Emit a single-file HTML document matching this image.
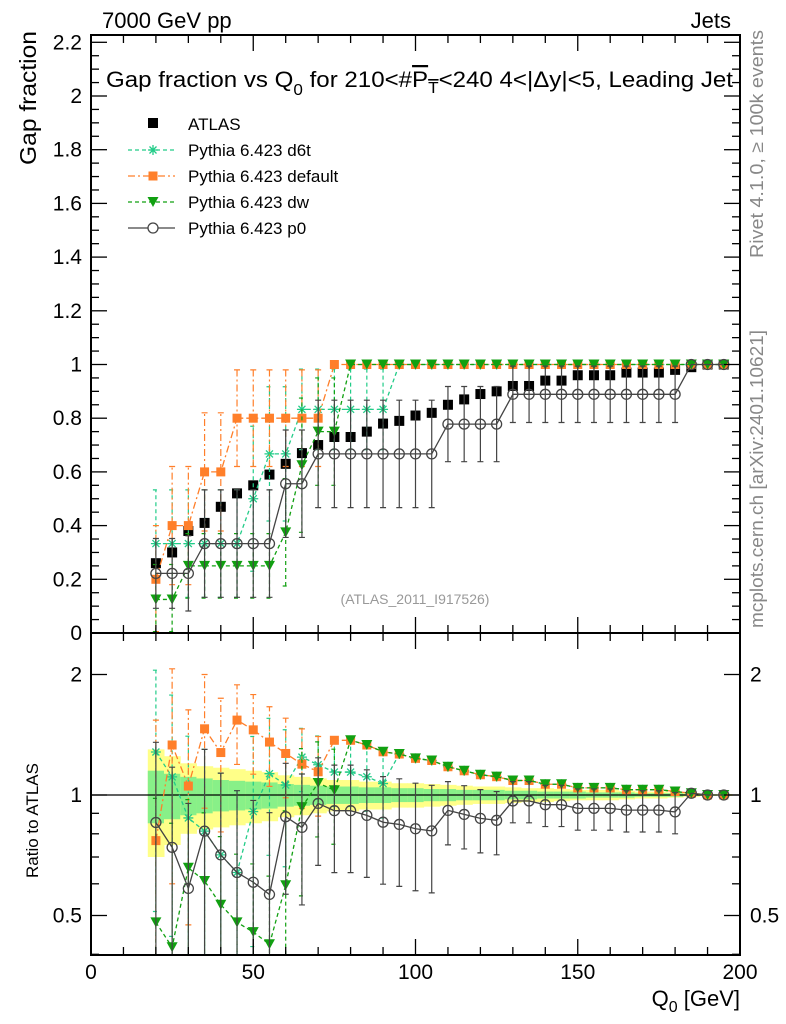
<!DOCTYPE html>
<html><head><meta charset="utf-8"><style>
html,body{margin:0;background:#fff;width:786px;height:1024px;overflow:hidden;position:relative;}
svg{display:block;font-family:"Liberation Sans",sans-serif;}
</style></head><body>
<svg id="c" width="786" height="1024" viewBox="0 0 786 1024" style="position:absolute;left:0;top:0"></svg>
<script>
const xs=[20,25,30,35,40,45,50,55,60,65,70,75,80,85,90,95,100,105,110,115,120,125,130,135,140,145,150,155,160,165,170,175,180,185,190,195];
const atlas=[0.26,0.30,0.38,0.41,0.47,0.52,0.55,0.59,0.63,0.67,0.70,0.73,0.73,0.75,0.78,0.79,0.81,0.82,0.85,0.87,0.89,0.90,0.92,0.92,0.94,0.94,0.96,0.96,0.96,0.97,0.97,0.97,0.98,0.99,1.0,1.0];
const bandOuter=[0.30,0.25,0.2,0.18,0.17,0.16,0.15,0.14,0.12,0.11,0.1,0.09,0.09,0.08,0.08,0.07,0.07,0.065,0.06,0.055,0.05,0.05,0.045,0.04,0.04,0.035,0.03,0.03,0.03,0.025,0.02,0.02,0.015,0.01,0.005,0.005];
const bandInner=[0.15,0.13,0.11,0.1,0.09,0.085,0.08,0.075,0.065,0.06,0.055,0.05,0.05,0.045,0.045,0.04,0.04,0.035,0.035,0.03,0.03,0.03,0.025,0.025,0.02,0.02,0.02,0.015,0.015,0.015,0.01,0.01,0.01,0.005,0.003,0.003];
const d6t=[0.333,0.333,0.333,0.333,0.333,0.333,0.5,0.667,0.667,0.833,0.833,0.833,0.833,0.833,0.833,1,1,1,1,1,1,1,1,1,1,1,1,1,1,1,1,1,1,1,1,1];
const d6tErr=[0.2,0.2,0.2,0.2,0.2,0.2,0.27,0.25,0.25,0.15,0.15,0.15,0.15,0.15,0.15,0,0,0,0,0,0,0,0,0,0,0,0,0,0,0,0,0,0,0,0,0];
const dflt=[0.2,0.4,0.4,0.6,0.6,0.8,0.8,0.8,0.8,0.8,0.8,1,1,1,1,1,1,1,1,1,1,1,1,1,1,1,1,1,1,1,1,1,1,1,1,1];
const dfltErr=[0.2,0.22,0.22,0.22,0.22,0.18,0.18,0.18,0.18,0.18,0.18,0,0,0,0,0,0,0,0,0,0,0,0,0,0,0,0,0,0,0,0,0,0,0,0,0];
const dw=[0.125,0.125,0.25,0.25,0.25,0.25,0.25,0.25,0.375,0.625,0.75,0.75,1,1,1,1,1,1,1,1,1,1,1,1,1,1,1,1,1,1,1,1,1,1,1,1];
const dwErr=[0.13,0.13,0.12,0.12,0.12,0.12,0.12,0.12,0.2,0.25,0.2,0.2,0,0,0,0,0,0,0,0,0,0,0,0,0,0,0,0,0,0,0,0,0,0,0,0];
const p0=[0.222,0.222,0.222,0.333,0.333,0.333,0.333,0.333,0.556,0.556,0.667,0.667,0.667,0.667,0.667,0.667,0.667,0.667,0.778,0.778,0.778,0.778,0.889,0.889,0.889,0.889,0.889,0.889,0.889,0.889,0.889,0.889,0.889,1,1,1];
const p0Err=[0.13,0.13,0.14,0.2,0.2,0.2,0.2,0.2,0.2,0.2,0.2,0.2,0.2,0.2,0.2,0.2,0.2,0.2,0.14,0.14,0.14,0.14,0.105,0.105,0.105,0.105,0.105,0.105,0.105,0.105,0.105,0.105,0.105,0,0,0];
const xTicks=[0,50,100,150,200];
const yTicks=[0.2,0.4,0.6,0.8,1,1.2,1.4,1.6,1.8,2,2.2];
const rTicks=[0.5,1,2];

const NS="http://www.w3.org/2000/svg";
const svg=document.getElementById('c');
const L=91,R=740,T=35,M=633,B=955;
const X=v=>L+(v/200)*(R-L);
const Y=v=>633-v*268.5;
const RY=r=>795-120.5*Math.log2(r);
function el(tag,at,parent){const e=document.createElementNS(NS,tag);for(const k in at)e.setAttribute(k,at[k]);(parent||svg).appendChild(e);return e;}
function txt(s,at,parent){const e=el('text',at,parent);e.textContent=s;return e;}

const defs=el('defs',{});
const c1=el('clipPath',{id:'cm'},defs);el('rect',{x:L,y:T,width:R-L,height:M-T},c1);
const c2=el('clipPath',{id:'cr'},defs);el('rect',{x:L,y:M,width:R-L,height:B-M},c2);
const gMain=el('g',{'clip-path':'url(#cm)'});


const gRat=el('g',{'clip-path':'url(#cr)'});



for(let i=0;i<xs.length;i++){
  const x0=X(xs[i]-2.5),x1=X(xs[i]+2.5);
  const b1=el('rect',{x:x0,y:RY(1+bandOuter[i]),width:x1-x0+0.5,height:RY(1-bandOuter[i])-RY(1+bandOuter[i]),fill:'#ffff88'},gRat);
  
  
  const b2=el('rect',{x:x0,y:RY(1+bandInner[i]),width:x1-x0+0.5,height:RY(1-bandInner[i])-RY(1+bandInner[i]),fill:'#88f088'},gRat);
  
  
}
const l1=el('line',{x1:L,x2:R,y1:RY(1),y2:RY(1),stroke:'#000','stroke-width':1.3},gRat);



function marker(g,kind,x,y,color){
  let m;
  if(kind==='sq'){m=el('rect',{x:x-5,y:y-5,width:10,height:10,fill:color},g);}
  else if(kind==='tri'){m=el('path',{d:`M${x-5.5},${y-5}L${x+5.5},${y-5}L${x},${y+5}Z`,fill:color},g);}
  else if(kind==='circ'){m=el('circle',{cx:x,cy:y,r:5,fill:'none',stroke:color,'stroke-width':1.3},g);}
  else if(kind==='star'){m=el('path',{d:`M${x-5},${y}H${x+5}M${x},${y-5}V${y+5}M${x-3.5},${y-3.5}L${x+3.5},${y+3.5}M${x-3.5},${y+3.5}L${x+3.5},${y-3.5}`,stroke:color,'stroke-width':1.3},g);}
  else if(kind==='osq'){m=el('rect',{x:x-4.5,y:y-4.5,width:9,height:9,fill:color},g);}
  return m;
}
const series=[
 {name:'d6t',vals:d6t,err:d6tErr,color:'#22cc88',dash:'4,3',mk:'star'},
 {name:'default',vals:dflt,err:dfltErr,color:'#ff7f2a',dash:'7,3,2,3',mk:'osq'},
 {name:'dw',vals:dw,err:dwErr,color:'#11a011',dash:'4,3',mk:'tri'},
 {name:'p0',vals:p0,err:p0Err,color:'#444',dash:'none',mk:'circ'}
];
function drawSeries(g,s,ratio){
  const yf=ratio?(v,i)=>RY(Math.max(v/atlas[i],0.01)):(v)=>Y(v);
  let d='';
  s.vals.forEach((v,i)=>{d+=(i?'L':'M')+X(xs[i])+','+yf(v,i);});
  const ln=el('path',{d,fill:'none',stroke:s.color,'stroke-width':1.3,'stroke-dasharray':s.dash},g);
  
  
  s.vals.forEach((v,i)=>{
    if(s.err[i]>0){
      const lo=Math.max(v-s.err[i],0.005),hi=v+s.err[i];
      const x=X(xs[i]),ya=yf(lo,i),yb=yf(hi,i);
      const eb=el('path',{d:`M${x},${ya}V${yb}M${x-3},${ya}H${x+3}M${x-3},${yb}H${x+3}`,stroke:s.color,'stroke-width':1.2,'stroke-dasharray':s.dash},g);
      
      
    }
    const m=marker(g,s.mk,X(xs[i]),yf(v,i),s.color);
    
    
  });
}
series.forEach(s=>drawSeries(gRat,s,true));
atlas.forEach((v,i)=>{
  const m=marker(gMain,'sq',X(xs[i]),Y(v),'#000');
  
  
});
series.forEach(s=>drawSeries(gMain,s,false));

const fr=el('rect',{x:L,y:T,width:R-L,height:B-T,fill:'none',stroke:'#000','stroke-width':2});


const sp=el('line',{x1:L,x2:R,y1:M,y2:M,stroke:'#000','stroke-width':2});



const tk=el('g',{stroke:'#000','stroke-width':1.3});
for(let v=0;v<=200;v+=10){
  const big=v%50===0,len=big?16:8,x=X(v);
  el('line',{x1:x,x2:x,y1:B,y2:B-len},tk);
  el('line',{x1:x,x2:x,y1:M,y2:M-len},tk);
  el('line',{x1:x,x2:x,y1:M,y2:M+len},tk);
  el('line',{x1:x,x2:x,y1:T,y2:T+len},tk);
}
xTicks.forEach(v=>{const t=txt(String(v),{x:X(v),y:979,'font-size':21,'text-anchor':'middle'});
  
  });
for(let v=0;v<=2.2001;v+=0.05){
  const big=Math.abs(v*5-Math.round(v*5))<1e-6,len=big?16:8,y=Y(v);
  el('line',{x1:L,x2:L+len,y1:y,y2:y},tk);
  el('line',{x1:R,x2:R-len,y1:y,y2:y},tk);
}
yTicks.forEach(v=>{const t=txt(String(v),{x:82,y:Y(v)+7,'font-size':21,'text-anchor':'end'});
  
  });
const z=txt('0',{x:82,y:640,'font-size':21,'text-anchor':'end'});

[0.4,0.5,0.6,0.7,0.8,0.9,1,2].forEach(r=>{
  const big=rTicks.includes(r),len=big?16:8,y=RY(r);
  el('line',{x1:L,x2:L+len,y1:y,y2:y},tk);
  el('line',{x1:R,x2:R-len,y1:y,y2:y},tk);
});
rTicks.forEach(r=>{
  const a=txt(String(r),{x:82,y:RY(r)+7,'font-size':21,'text-anchor':'end'});
  
  const b=txt(String(r),{x:750,y:RY(r)+7,'font-size':21,'text-anchor':'start'});
  
});
</script>
<svg width="786" height="1024" style="position:absolute;left:0;top:0">
<text x="102" y="28" font-size="22" font-family="Liberation Sans,sans-serif">7000 GeV pp</text>
<text x="731" y="28" font-size="22" text-anchor="end" font-family="Liberation Sans,sans-serif">Jets</text>
<text x="106" y="87" font-size="22.5" textLength="627" lengthAdjust="spacingAndGlyphs" font-family="Liberation Sans,sans-serif">Gap fraction vs Q<tspan dy="8" font-size="16">0</tspan><tspan dy="-8"> for 210&lt;#</tspan><tspan text-decoration="overline">P<tspan dy="6" font-size="16">T</tspan></tspan><tspan dy="-6">&lt;240  4&lt;|Δy|&lt;5, Leading Jet</tspan></text>
<text transform="translate(36,165) rotate(-90)" font-size="23" textLength="134" lengthAdjust="spacingAndGlyphs" font-family="Liberation Sans,sans-serif" x="0" y="0">Gap fraction</text>
<text transform="translate(38,878) rotate(-90)" font-size="17" font-family="Liberation Sans,sans-serif">Ratio to ATLAS</text>
<text x="740" y="1006" font-size="22" text-anchor="end" font-family="Liberation Sans,sans-serif">Q<tspan dy="6" font-size="16">0</tspan><tspan dy="-6"> [GeV]</tspan></text>
<text transform="translate(763,258) rotate(-90)" font-size="18" textLength="228" lengthAdjust="spacingAndGlyphs" fill="#888" font-family="Liberation Sans,sans-serif">Rivet 4.1.0, ≥ 100k events</text>
<text transform="translate(763,628) rotate(-90)" font-size="18" textLength="298" lengthAdjust="spacingAndGlyphs" fill="#888" font-family="Liberation Sans,sans-serif">mcplots.cern.ch [arXiv:2401.10621]</text>
<text x="415" y="604" font-size="14" fill="#999" text-anchor="middle" font-family="Liberation Sans,sans-serif">(ATLAS_2011_I917526)</text>
<g font-family="Liberation Sans,sans-serif" font-size="17">
<rect x="148" y="118" width="10" height="10" fill="#000"/>
<text x="188" y="130">ATLAS</text>
<line x1="128" x2="175" y1="150" y2="150" stroke="#22cc88" stroke-width="1.3" stroke-dasharray="4,3"/>
<path d="M148,150H158M153,145V155M149.5,146.5L156.5,153.5M149.5,153.5L156.5,146.5" stroke="#22cc88" stroke-width="1.3"/>
<text x="188" y="156">Pythia 6.423 d6t</text>
<line x1="128" x2="175" y1="176" y2="176" stroke="#ff7f2a" stroke-width="1.3" stroke-dasharray="7,3,2,3"/>
<rect x="148.5" y="171.5" width="9" height="9" fill="#ff7f2a"/>
<text x="188" y="182">Pythia 6.423 default</text>
<line x1="128" x2="175" y1="202" y2="202" stroke="#11a011" stroke-width="1.3" stroke-dasharray="4,3"/>
<path d="M147.5,197L158.5,197L153,207Z" fill="#11a011"/>
<text x="188" y="208">Pythia 6.423 dw</text>
<line x1="128" x2="175" y1="228" y2="228" stroke="#444" stroke-width="1.3"/>
<circle cx="153" cy="228" r="5" fill="#fff" stroke="#444" stroke-width="1.3"/>
<text x="188" y="234">Pythia 6.423 p0</text>
</g>
</svg>
</body></html>
